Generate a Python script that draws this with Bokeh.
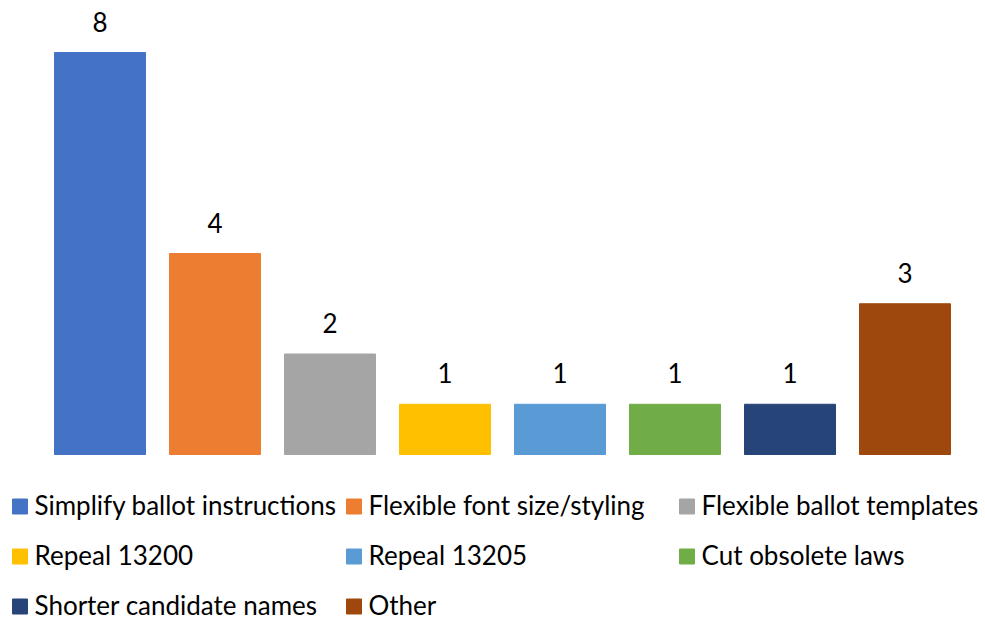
from bokeh.plotting import figure
from bokeh.models import Range1d, ColumnDataSource
from bokeh.core.properties import value
from bokeh.embed import file_html
from bokeh.resources import INLINE

categories = ["Simplify ballot instructions", "Flexible font size/styling", "Flexible ballot templates",
              "Repeal 13200", "Repeal 13205", "Cut obsolete laws", "Shorter candidate names", "Other"]
counts = [8, 4, 2, 1, 1, 1, 1, 3]
colors = ["#4472C4", "#ED7D31", "#A5A5A5", "#FFC000", "#5B9BD5", "#70AD47", "#264478", "#9E480E"]

FONT = "Lato"
FS = "26px"

W, H = 985, 623
# page x -> category index: x = 99.5 + 115*i ; page y -> value: y = 454 - 50.25*v
p = figure(width=W, height=H, output_backend="svg", toolbar_location=None,
           x_range=Range1d((0 - 99.5) / 115, (W - 99.5) / 115),
           y_range=Range1d((454 - H) / 50.25, 454 / 50.25),
           min_border=0, outline_line_color=None)
p.axis.visible = False
p.grid.visible = False
p.extra_x_ranges = {"px": Range1d(0, W)}
p.extra_y_ranges = {"py": Range1d(H, 0)}

idx = list(range(len(categories)))
src = ColumnDataSource(dict(x=idx, top=counts, color=colors, cat=categories,
                            lbl=[str(c) for c in counts]))
p.vbar(x="x", top="top", bottom=0, width=91/115, color="color", source=src)
p.text(x="x", y="top", text="lbl", source=src, text_align="center", text_baseline="alphabetic",
       y_offset=-31, text_font=value(FONT), text_font_size=FS, text_color="#000000")

# legend (3 columns)
col_x = [12, 346, 679]
row_y = [506, 556, 606]
lx, ly, tx = [], [], []
for i, c in enumerate(categories):
    r, k = divmod(i, 3)
    lx.append(col_x[k] + 7.5)
    ly.append(row_y[r])
    tx.append(col_x[k] + 22)
lsrc = ColumnDataSource(dict(x=lx, y=ly, tx=tx, color=colors, cat=categories))
p.rect(x="x", y="y", width=15, height=15, color="color", source=lsrc,
       x_range_name="px", y_range_name="py")
p.text(x="tx", y="y", text="cat", source=lsrc, text_baseline="middle", text_align="left",
       y_offset=-2, text_font=value(FONT), text_font_size=FS, text_color="#000000",
       x_range_name="px", y_range_name="py")

open("out.html", "w").write(file_html(p, INLINE))
